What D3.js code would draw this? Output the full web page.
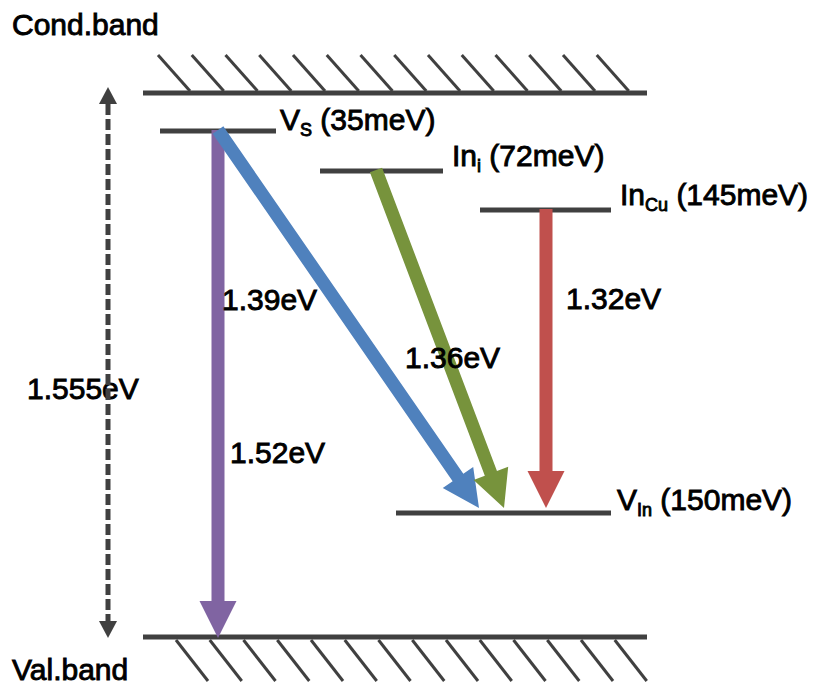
<!DOCTYPE html>
<html lang="en">
<head>
<meta charset="UTF-8">
<title>Energy levels</title>
<script src="https://d3js.org/d3.v7.min.js"></script>
<style>
  body { margin: 0; background: #fff; }
  text { font-family: "Liberation Sans", Arial, sans-serif; fill: #000; stroke: #000; stroke-width: 0.9; }
</style>
</head>
<body>
<script>
  // defect levels: name, subscript, depth label
  const levelNames = ['V', 'In', 'In', 'V']
  const levelSubs = ['S', 'i', 'Cu', 'In']
  const levelDepths = ['35meV', '72meV', '145meV', '150meV']
  // transitions: from level index to level index (4 = valence band)
  const transFrom = [0, 0, 1, 2]
  const transTo = [4, 3, 3, 3]
  const transLabels = ['1.52eV', '1.39eV', '1.36eV', '1.32eV']
  const transColors = ['#8064A2', '#4F81BD', '#77933C', '#C0504D']
  const gapLabel = '1.555eV'

  const width = 820
  const height = 687
  const dark = '#404040'

  // layout of the drawing (row order: cond band, 4 levels, val band)
  const rows = ['cond', 0, 1, 2, 3, 'val']
  const y = d3.scaleOrdinal().domain(rows).range([93, 131, 171, 210, 513, 637])
  const levelX = [[160, 276], [320, 443], [480, 611], [396, 611]]
  const startX = [218, 376, 546, 0]
  const endX = { 4: [218], 3: [479, 504, 546] }

  const svg = d3.select('body').append('svg')
    .attr('width', width)
    .attr('height', height)

  // bands
  const bandX = [143, 647]
  svg.selectAll('line.band')
    .data(['cond', 'val'])
    .enter().append('line')
    .attr('x1', bandX[0]).attr('x2', bandX[1])
    .attr('y1', d => y(d)).attr('y2', d => y(d))
    .attr('stroke', dark).attr('stroke-width', 5)

  // hatching
  const step = 33.75
  svg.selectAll('line.hatchTop')
    .data(d3.range(14))
    .enter().append('line')
    .attr('x1', i => 158 + i * step).attr('y1', 55)
    .attr('x2', i => 190 + i * step).attr('y2', 91)
    .attr('stroke', dark).attr('stroke-width', 3)
  svg.selectAll('line.hatchBot')
    .data(d3.range(14))
    .enter().append('line')
    .attr('x1', i => 176 + i * step).attr('y1', 640)
    .attr('x2', i => 208 + i * step).attr('y2', 681)
    .attr('stroke', dark).attr('stroke-width', 3)

  // defect levels
  svg.selectAll('line.level')
    .data(levelX)
    .enter().append('line')
    .attr('x1', d => d[0]).attr('x2', d => d[1])
    .attr('y1', (d, i) => y(i)).attr('y2', (d, i) => y(i))
    .attr('stroke', dark).attr('stroke-width', 5)

  const labelPos = [[280, 130], [452, 166], [620, 205], [617, 510]]
  levelNames.forEach((n, i) => {
    const t = svg.append('text')
      .attr('x', labelPos[i][0]).attr('y', labelPos[i][1])
      .attr('font-size', 30)
    t.append('tspan').text(n)
    t.append('tspan').text(levelSubs[i]).attr('font-size', 18).attr('dy', 6)
    t.append('tspan').text(' (' + levelDepths[i] + ')').attr('dy', -6)
  })

  // band labels
  svg.append('text').attr('x', 12).attr('y', 35).attr('font-size', 30).text('Cond.band')
  svg.append('text').attr('x', 12).attr('y', 680).attr('font-size', 30).text('Val.band')
  svg.append('text').attr('x', 27).attr('y', 399).attr('font-size', 30).text(gapLabel)

  // thick arrows
  function arrowPath(x0, y0, x1, y1, w, hw, hl) {
    const dx = x1 - x0, dy = y1 - y0
    const len = Math.hypot(dx, dy)
    const ux = dx / len, uy = dy / len
    const px = -uy, py = ux
    const bx = x1 - ux * hl, by = y1 - uy * hl
    const pts = [
      [x0 + px * w / 2, y0 + py * w / 2],
      [bx + px * w / 2, by + py * w / 2],
      [bx + px * hw / 2, by + py * hw / 2],
      [x1, y1],
      [bx - px * hw / 2, by - py * hw / 2],
      [bx - px * w / 2, by - py * w / 2],
      [x0 - px * w / 2, y0 - py * w / 2]
    ]
    return d3.line()(pts) + 'Z'
  }

  const endCount = { 3: 0 }
  const arrows = transFrom.map((f, i) => {
    const t = transTo[i]
    let ex
    if (t === 4) ex = endX[4][0]
    else { ex = endX[3][endCount[3]]; endCount[3]++ }
    return { x0: startX[f], y0: y(f) - 1, x1: ex, y1: y(t === 4 ? 'val' : t) - 5, color: transColors[i] }
  })
  arrows[0].y1 = y('val') + 1

  svg.selectAll('path.arrow')
    .data(arrows)
    .enter().append('path')
    .attr('d', d => arrowPath(d.x0, d.y0, d.x1, d.y1, 13, 37, 37))
    .attr('fill', d => d.color)

  // transition labels
  const transPos = [[230, 463], [222, 310], [405, 368], [566, 309]]
  svg.selectAll('text.trans')
    .data(transLabels)
    .enter().append('text')
    .attr('x', (d, i) => transPos[i][0]).attr('y', (d, i) => transPos[i][1])
    .attr('font-size', 30)
    .text(d => d)

  // dashed gap arrow
  const gx = 108
  svg.append('line')
    .attr('x1', gx).attr('x2', gx)
    .attr('y1', 104).attr('y2', 622)
    .attr('stroke', dark).attr('stroke-width', 5)
    .attr('stroke-dasharray', '11,4')
  svg.append('path')
    .attr('d', `M${gx},87L${gx + 9},104L${gx - 9},104Z`)
    .attr('fill', dark)
  svg.append('path')
    .attr('d', `M${gx},638L${gx + 9},621L${gx - 9},621Z`)
    .attr('fill', dark)
</script>
</body>
</html>
